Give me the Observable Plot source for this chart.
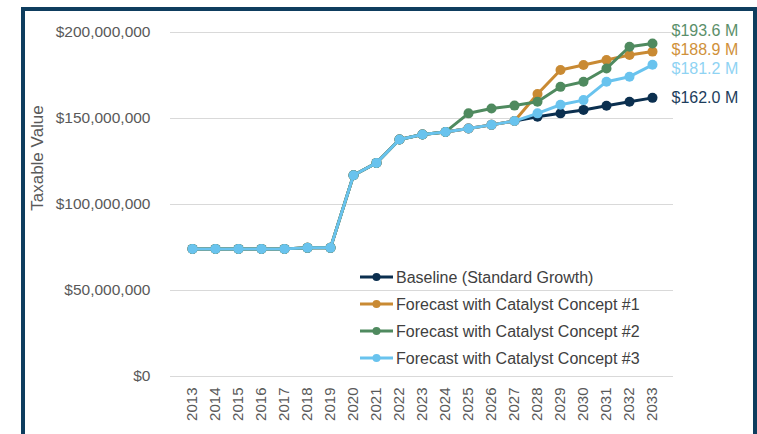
<!DOCTYPE html>
<html>
<head>
<meta charset="utf-8">
<script src="https://cdn.jsdelivr.net/npm/d3@7"></script>
<script src="https://cdn.jsdelivr.net/npm/@observablehq/plot@0.6"></script>
<style>
  html, body { margin: 0; padding: 0; background: #fff; }
  #wrap { position: relative; width: 757px; height: 434px; overflow: hidden; }
  #frame { position: absolute; left: 21px; top: 7px; width: 728px; height: 423px; border: 4px solid #0e3d5e; box-sizing: content-box; pointer-events: none; }
  #chart { position: absolute; left: 0; top: 0; }
</style>
</head>
<body>
<div id="wrap"><div id="chart"></div><div id="frame"></div></div>
<script>
const years = ["2013","2014","2015","2016","2017","2018","2019","2020","2021","2022","2023","2024","2025","2026","2027","2028","2029","2030","2031","2032","2033"];
const baseline = [74.2,74.2,74.2,74.2,74.2,74.8,74.8,117.0,124.2,137.8,140.7,142.2,144.2,146.3,148.5,151.0,153.0,155.0,157.4,159.7,162.0];
const concept1 = [74.2,74.2,74.2,74.2,74.2,74.8,74.8,117.0,124.2,137.8,140.7,142.2,144.2,146.3,148.5,164.2,178.2,181.1,184.0,186.9,188.9];
const concept2 = [74.2,74.2,74.2,74.2,74.2,74.8,74.8,117.0,124.2,137.8,140.7,142.2,153.0,155.8,157.5,159.7,168.4,171.4,179.1,191.7,193.6];
const concept3 = [74.2,74.2,74.2,74.2,74.2,74.8,74.8,117.0,124.2,137.8,140.7,142.2,144.2,146.3,148.5,153.0,158.0,160.7,171.4,174.3,181.2];
const seriesNames = ["Baseline (Standard Growth)","Forecast with Catalyst Concept #1","Forecast with Catalyst Concept #2","Forecast with Catalyst Concept #3"];
const seriesValues = [baseline, concept1, concept2, concept3];
const endLabels = ["$162.0 M","$188.9 M","$193.6 M","$181.2 M"];
const yTicks = [0, 50e6, 100e6, 150e6, 200e6];

const lineColors = ["#0b2f4f","#c98a33","#4f8a5f","#69c3ee"];
const labelColors = ["#1d3d5c","#d0913a","#5b8f6a","#8fd3f3"];
const labelDy = [0, -2, -13, 4];
const FONT = "'Liberation Sans', Arial, sans-serif";

const rows = [];
seriesNames.forEach((s, si) => {
  years.forEach((yr, i) => rows.push({series: s, si, year: yr, value: seriesValues[si][i] * 1e6}));
});

const marks = [
  Plot.gridY(yTicks, {stroke: "#d9d9d9", strokeOpacity: 1, strokeWidth: 1}),
  Plot.axisY({ticks: yTicks, tickFormat: d3.format("$,"), tickSize: 0, tickPadding: 20, label: null, fontSize: 15.5, color: "#595959"}),
  Plot.axisX({tickRotate: -90, tickSize: 0, tickPadding: 11, label: null, fontSize: 15, color: "#595959"})
];
seriesNames.forEach((s, si) => {
  const d = rows.filter(r => r.si === si);
  marks.push(Plot.line(d, {x: "year", y: "value", stroke: lineColors[si], strokeWidth: 3}));
  marks.push(Plot.dot(d, {x: "year", y: "value", fill: lineColors[si], r: 5}));
});
seriesNames.forEach((s, si) => {
  const d = rows.filter(r => r.si === si && r.year === years[years.length - 1]);
  marks.push(Plot.text(d, {x: "year", y: "value", text: () => endLabels[si], fill: labelColors[si], textAnchor: "start", dx: 19, dy: labelDy[si], fontSize: 16}));
});

const chart = Plot.plot({
  width: 757,
  height: 434,
  marginLeft: 170,
  marginRight: 84,
  marginTop: 32,
  marginBottom: 58,
  style: {fontFamily: FONT, background: "transparent", color: "#595959"},
  x: {type: "point", domain: years, padding: 0.5},
  y: {domain: [0, 200e6]},
  marks
});
document.getElementById("chart").appendChild(chart);

const svg = d3.select(chart);
svg.append("text")
  .attr("transform", "translate(43,158) rotate(-90)")
  .attr("text-anchor", "middle")
  .attr("fill", "#595959")
  .attr("font-size", 17)
  .attr("font-family", FONT)
  .text("Taxable Value");

const legendRowsY = [277, 304, 331, 358];
const lg = svg.append("g").attr("text-anchor", "start");
seriesNames.forEach((s, si) => {
  const y = legendRowsY[si];
  lg.append("line").attr("x1", 360).attr("x2", 393).attr("y1", y).attr("y2", y).attr("stroke", lineColors[si]).attr("stroke-width", 3);
  lg.append("circle").attr("cx", 376.5).attr("cy", y).attr("r", 4).attr("fill", lineColors[si]);
  lg.append("text").attr("x", 396).attr("y", y).attr("dy", "0.35em").attr("text-anchor", "start").attr("fill", "#404040").attr("font-size", 16)
    .attr("font-family", FONT).text(s);
});
</script>
</body>
</html>
